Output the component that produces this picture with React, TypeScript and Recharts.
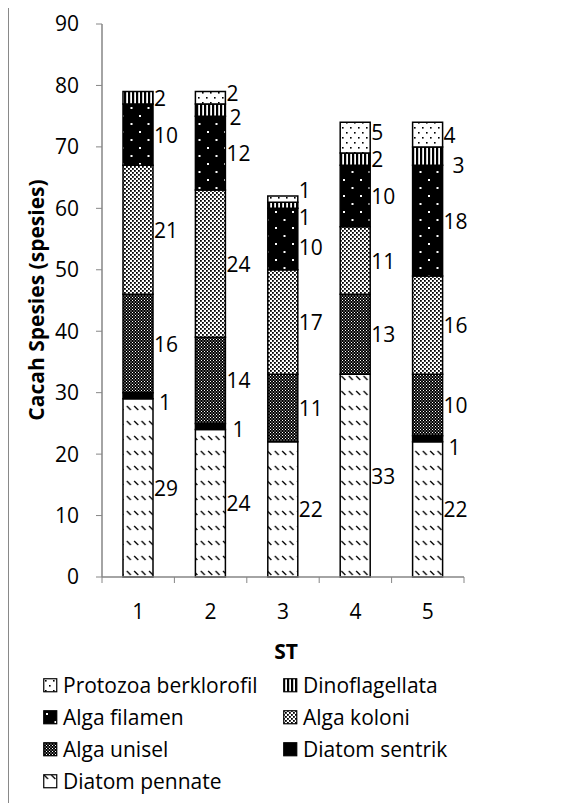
import { Bar, BarChart, XAxis, YAxis } from "recharts";

const CATEGORIES = ["1", "2", "3", "4", "5"];

// stacked bottom -> top
const DIATOM_PENNATE = [29, 24, 22, 33, 22];
const DIATOM_SENTRIK = [1, 1, 0, 0, 1];
const ALGA_UNISEL = [16, 14, 11, 13, 10];
const ALGA_KOLONI = [21, 24, 17, 11, 16];
const ALGA_FILAMEN = [10, 12, 10, 10, 18];
const DINOFLAGELLATA = [2, 2, 1, 2, 3];
const PROTOZOA_BERKLOROFIL = [0, 2, 1, 5, 4];

const Y_TICKS = [0, 10, 20, 30, 40, 50, 60, 70, 80, 90];

const SERIES = [
  { key: "pennate", name: "Diatom pennate", values: DIATOM_PENNATE },
  { key: "sentrik", name: "Diatom sentrik", values: DIATOM_SENTRIK },
  { key: "unisel", name: "Alga unisel", values: ALGA_UNISEL },
  { key: "koloni", name: "Alga koloni", values: ALGA_KOLONI },
  { key: "filamen", name: "Alga filamen", values: ALGA_FILAMEN },
  { key: "dino", name: "Dinoflagellata", values: DINOFLAGELLATA },
  { key: "protozoa", name: "Protozoa berklorofil", values: PROTOZOA_BERKLOROFIL },
];

const LEGEND_ORDER = ["protozoa", "dino", "filamen", "koloni", "unisel", "sentrik", "pennate"];

const data = CATEGORIES.map((st, i) => {
  const row: Record<string, string | number> = { st };
  SERIES.forEach((s) => (row[s.key] = s.values[i]));
  return row;
});

// label shifts where Excel pushed overlapping labels apart
const NUDGE: Record<string, [number, number]> = {
  "sentrik-0": [5, 6],
  "sentrik-1": [6, 3],
  "sentrik-4": [5, 8],
  "protozoa-1": [0, -5],
  "dino-1": [3, 7],
  "protozoa-2": [0, -9],
  "dino-2": [0, 12],
  "filamen-2": [0, 8],
  "protozoa-3": [0, -6],
  "dino-4": [9, 9],
};

const FONT = "'Open Sans', sans-serif";
const AXIS = "#868686";
const LEFT = 102;
const RIGHT = 464;
const TOP = 24;
const BOTTOM = 577;
const BAND = (RIGHT - LEFT) / CATEGORIES.length;

function Patterns({ p }: { p: string }) {
  return (
    <defs>
      <pattern id={`${p}-pennate`} width={7.4} height={15} patternUnits="userSpaceOnUse">
        <rect width={7.4} height={15} fill="#fff" />
        <path d="M1 1 L5 5" stroke="#000" strokeWidth={1.3} />
      </pattern>
      <pattern id={`${p}-sentrik`} width={4} height={4} patternUnits="userSpaceOnUse">
        <rect width={4} height={4} fill="#000" />
      </pattern>
      <pattern id={`${p}-unisel`} width={3} height={3} patternUnits="userSpaceOnUse">
        <rect width={3} height={3} fill="#000" />
        <rect x={0} y={0} width={1} height={1} fill="#fff" />
        <rect x={1.5} y={1.5} width={1} height={1} fill="#fff" />
      </pattern>
      <pattern id={`${p}-koloni`} width={4} height={4} patternUnits="userSpaceOnUse">
        <rect width={4} height={4} fill="#fff" />
        <rect x={0} y={0} width={1.8} height={1.8} fill="#000" />
        <rect x={2} y={2} width={1.8} height={1.8} fill="#000" />
      </pattern>
      <pattern id={`${p}-filamen`} width={17} height={16} patternUnits="userSpaceOnUse">
        <rect width={17} height={16} fill="#000" />
        <rect x={3} y={3} width={2} height={2} fill="#fff" />
        <rect x={11.5} y={11} width={2} height={2} fill="#fff" />
      </pattern>
      <pattern id={`${p}-dino`} width={4} height={4} patternUnits="userSpaceOnUse">
        <rect width={4} height={4} fill="#fff" />
        <rect x={0} y={0} width={2.2} height={4} fill="#000" />
      </pattern>
      <pattern id={`${p}-protozoa`} width={8} height={10} patternUnits="userSpaceOnUse">
        <rect width={8} height={10} fill="#fff" />
        <rect x={2} y={2} width={1.6} height={1.6} fill="#000" />
        <rect x={6} y={7} width={1.6} height={1.6} fill="#000" />
      </pattern>
    </defs>
  );
}

function segLabel(key: string, values: number[]) {
  return (props: any) => {
    const { x, y, width, height } = props;
    // category from the bar's position (label index skips empty segments)
    const idx = Math.floor((Number(x) + Number(width) / 2 - LEFT) / BAND);
    const v = values[idx];
    if (!v) return null;
    const [dx, dy] = NUDGE[`${key}-${idx}`] ?? [0, 0];
    return (
      <text
        x={Number(x) + Number(width) + 1 + dx}
        y={Number(y) + Number(height) / 2 + dy}
        dominantBaseline="central"
        fontSize={21}
        fontFamily={FONT}
        fill="#000"
      >
        {v}
      </text>
    );
  };
}

function XTick(props: any) {
  const { x, payload, index } = props;
  const last = index === CATEGORIES.length - 1;
  return (
    <g>
      <line x1={x - BAND / 2} x2={x - BAND / 2} y1={BOTTOM} y2={BOTTOM + 6} stroke={AXIS} />
      {last && <line x1={x + BAND / 2} x2={x + BAND / 2} y1={BOTTOM} y2={BOTTOM + 6} stroke={AXIS} />}
      <text x={x} y={BOTTOM + 42} textAnchor="middle" fontSize={21} fontFamily={FONT} fill="#000">
        {payload.value}
      </text>
    </g>
  );
}

export default function App() {
  return (
    <div style={{ position: "relative", width: 574, height: 795, fontFamily: FONT }}>
      <div style={{ position: "absolute", left: -8, top: -8, width: 582, height: 803 }}>
        <div style={{ position: "absolute", left: 7, top: 6, width: 575, height: 2, background: "#898989" }} />
        <div style={{ position: "absolute", left: 7, top: 6, width: 2, height: 797, background: "#898989" }} />

        <div style={{ position: "absolute", left: 0, top: 0 }}>
          <BarChart
            width={582}
            height={803}
            data={data}
            margin={{ top: TOP, right: 582 - RIGHT, bottom: 803 - BOTTOM - 40, left: LEFT - 60 }}
            barSize={30}
          >
            <Patterns p="bar" />
            <XAxis
              dataKey="st"
              height={40}
              tickLine={false}
              axisLine={{ stroke: AXIS, strokeWidth: 1.5 }}
              tick={<XTick />}
              interval={0}
            />
            <YAxis
              width={60}
              domain={[0, 90]}
              ticks={Y_TICKS}
              interval={0}
              tickSize={6}
              tickMargin={17}
              axisLine={{ stroke: AXIS, strokeWidth: 1.5 }}
              tickLine={{ stroke: AXIS }}
              tick={{ fill: "#000", fontSize: 21, fontFamily: FONT }}
            />
            {SERIES.map((s) => (
              <Bar
                key={s.key}
                dataKey={s.key}
                name={s.name}
                stackId="a"
                fill={`url(#bar-${s.key})`}
                stroke="#000"
                strokeWidth={1.5}
                isAnimationActive={false}
                label={segLabel(s.key, s.values)}
              />
            ))}
          </BarChart>
        </div>

        <div
          style={{
            position: "absolute",
            left: 36 - 200,
            top: 300 - 16,
            width: 400,
            height: 32,
            lineHeight: "32px",
            textAlign: "center",
            fontWeight: 700,
            fontSize: 21,
            transform: "rotate(-90deg)",
          }}
        >
          Cacah Spesies (spesies)
        </div>

        <div
          style={{
            position: "absolute",
            left: 286 - 50,
            top: 651 - 16,
            width: 100,
            lineHeight: "32px",
            textAlign: "center",
            fontWeight: 700,
            fontSize: 21,
          }}
        >
          ST
        </div>

        {LEGEND_ORDER.map((k, i) => {
          const s = SERIES.find((d) => d.key === k)!;
          const col = i % 2;
          const row = Math.floor(i / 2);
          return (
            <div
              key={k}
              style={{
                position: "absolute",
                left: col === 0 ? 43 : 283,
                top: 685 - 16 + row * 32,
                height: 32,
                lineHeight: "32px",
                fontSize: 21,
                whiteSpace: "nowrap",
                display: "flex",
                alignItems: "center",
              }}
            >
              <svg width={15} height={15} style={{ marginRight: 5 }}>
                <Patterns p={`lg${k}`} />
                <rect x={0.75} y={0.75} width={13} height={13} fill={`url(#lg${k}-${k})`} stroke="#000" strokeWidth={1.2} />
              </svg>
              <span>{s.name}</span>
            </div>
          );
        })}
      </div>
    </div>
  );
}
